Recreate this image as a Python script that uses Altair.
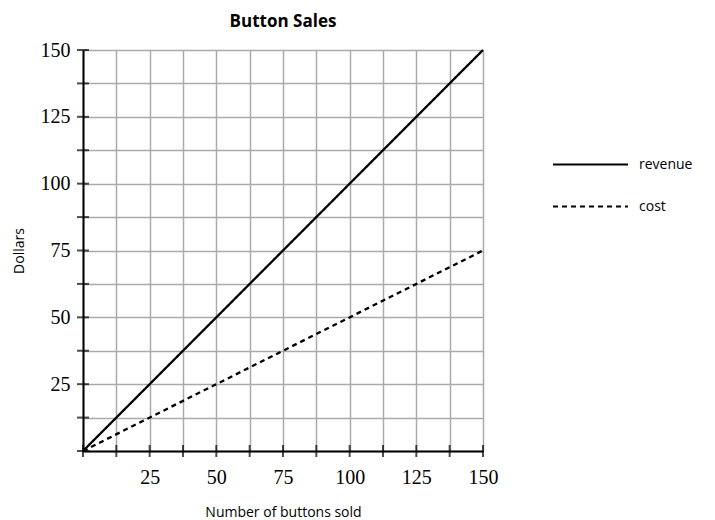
import altair as alt
import pandas as pd

buttons = [0, 150]
revenue = [0, 150]
cost = [0, 75]
series = ["revenue", "cost"]
tick_values = [0, 12.5, 25, 37.5, 50, 62.5, 75, 87.5, 100, 112.5, 125, 137.5, 150]

rows = []
for name, vals in zip(series, [revenue, cost]):
    for b, v in zip(buttons, vals):
        rows.append({"buttons": b, "dollars": v, "series": name})
df = pd.DataFrame(rows)
ticks_df = pd.DataFrame({"t": tick_values})

serif = "Liberation Serif"
sans = "Open Sans"

label_expr = "datum.value % 25 == 0 && datum.value > 0 ? datum.label : ''"

xscale = alt.Scale(domain=[0, 150], nice=False, zero=True)
yscale = alt.Scale(domain=[0, 150], nice=False, zero=True)

xaxis = alt.Axis(values=tick_values, title="Number of buttons sold",
                 labelExpr=label_expr, ticks=False, labelPadding=16,
                 labelFont=serif, labelFontSize=20, labelColor="black",
                 titleFont=sans, titleFontSize=14, titleFontWeight="normal",
                 titleColor="black", titlePadding=18,
                 domainColor="black", domainWidth=2,
                 gridColor="#aaaaaa", gridWidth=1.5, labelFlush=False)
yaxis = alt.Axis(values=tick_values, title="Dollars",
                 labelExpr=label_expr, ticks=False, labelPadding=13,
                 labelFont=serif, labelFontSize=20, labelColor="black",
                 titleFont=sans, titleFontSize=14, titleFontWeight="normal",
                 titleColor="black", titlePadding=14,
                 domainColor="black", domainWidth=2,
                 gridColor="#aaaaaa", gridWidth=1.5, labelFlush=False)

lines = alt.Chart(df).mark_line(color="black", strokeWidth=2.3).encode(
    x=alt.X("buttons:Q", scale=xscale, axis=xaxis),
    y=alt.Y("dollars:Q", scale=yscale, axis=yaxis),
    strokeDash=alt.StrokeDash(
        "series:N",
        scale=alt.Scale(domain=series, range=[[1, 0], [5, 4]]),
        legend=alt.Legend(title=None, orient="none", legendX=494, legendY=101,
                          symbolType="M-3,0H3", symbolSize=625,
                          symbolStrokeColor="black", symbolStrokeWidth=2,
                          labelFont=sans, labelFontSize=14, labelColor="black",
                          labelOffset=35, rowPadding=21),
    ),
)

yticks = alt.Chart(ticks_df).mark_tick(color="black", thickness=2, size=12, orient="horizontal").encode(
    y=alt.Y("t:Q", scale=yscale, axis=yaxis),
    x=alt.datum(0, scale=xscale, axis=xaxis),
)
xticks = alt.Chart(ticks_df).mark_tick(color="black", thickness=2, size=12, orient="vertical").encode(
    x=alt.X("t:Q", scale=xscale, axis=xaxis),
    y=alt.datum(0, scale=yscale, axis=yaxis),
)

chart = alt.layer(lines, yticks, xticks).properties(
    width=400, height=401,
    padding={"left": 4, "top": 5, "right": 5, "bottom": 0},
    title=alt.TitleParams("Button Sales", font=sans, fontSize=17, fontWeight="bold",
                          color="black", anchor="middle", offset=9),
).configure_view(stroke=None)

chart.save("out.html", embed_options={"renderer": "svg", "actions": False})
